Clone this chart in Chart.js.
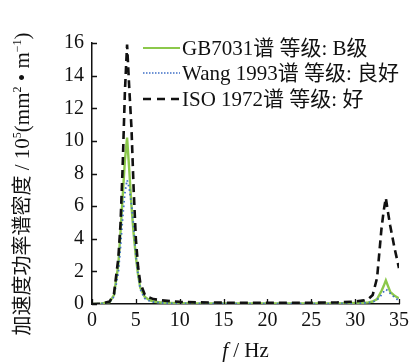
<!DOCTYPE html>
<html>
<head>
<meta charset="utf-8">
<script src="https://cdn.jsdelivr.net/npm/chart.js@4/dist/chart.umd.min.js"></script>
<style>
  html, body { margin: 0; padding: 0; background: #fff; }
  #wrap { width: 414px; height: 362px; }
</style>
</head>
<body>
<div id="wrap"><canvas id="psd" width="414" height="362"></canvas></div>
<script>
// Frequency samples (Hz)
const freqs = [0, 1, 2, 2.5, 3, 3.25, 3.5, 3.75, 4, 4.25, 4.5, 4.75, 5, 5.25, 5.5, 6, 6.5, 7, 8, 9, 10, 12, 15, 20, 25, 28, 30, 31, 31.5, 32, 32.5, 33, 33.25, 33.5, 33.75, 34, 34.5, 35];

// Acceleration PSD, 10^5 (mm^2 · m^-1)
const gb7031 = [0, 0.02, 0.12, 0.55, 2.4, 4.4, 6.6, 8.8, 10.2, 8.2, 6.0, 4.3, 2.9, 1.8, 1.0, 0.45, 0.25, 0.15, 0.08, 0.06, 0.05, 0.04, 0.03, 0.03, 0.03, 0.04, 0.06, 0.08, 0.1, 0.15, 0.3, 0.8, 1.1, 1.45, 1.1, 0.75, 0.5, 0.35];
const wang1993 = [0, 0.02, 0.1, 0.45, 1.9, 3.5, 5.3, 6.8, 7.6, 7.1, 6.1, 4.8, 3.0, 1.8, 0.9, 0.35, 0.2, 0.12, 0.06, 0.04, 0.03, 0.03, 0.02, 0.02, 0.02, 0.03, 0.04, 0.06, 0.08, 0.12, 0.25, 0.55, 0.75, 0.9, 0.8, 0.65, 0.4, 0.2];
const iso1972 = [0, 0.02, 0.15, 0.6, 2.8, 4.9, 8.5, 13.0, 15.9, 13.2, 10.8, 7.0, 4.0, 2.3, 1.3, 0.6, 0.4, 0.3, 0.22, 0.17, 0.13, 0.1, 0.08, 0.08, 0.08, 0.1, 0.15, 0.22, 0.3, 0.55, 1.6, 4.6, 5.7, 6.5, 5.6, 4.8, 3.4, 2.2];

const seriesLabels = ['GB7031谱 等级: B级', 'Wang 1993谱 等级: 良好', 'ISO 1972谱 等级: 好'];

const SERIF = '"Liberation Serif", "Noto Sans CJK SC", serif';
const pts = arr => freqs.map((f, i) => ({ x: f, y: arr[i] }));

// Draw a sequence of text runs (sizes, superscripts, italics), centred on (0,0)
function drawRuns(ctx, runs) {
  const fontOf = r => (r.italic ? 'italic ' : '') + r.size + 'px ' + SERIF;
  let total = 0;
  runs.forEach(r => { ctx.font = fontOf(r); r.w = ctx.measureText(r.t).width; total += r.w; });
  let x = -total / 2;
  ctx.textBaseline = 'alphabetic';
  ctx.textAlign = 'left';
  runs.forEach(r => {
    ctx.font = fontOf(r);
    ctx.fillText(r.t, x, r.rise ? -r.rise : 0);
    x += r.w;
  });
}

const decorations = {
  id: 'decorations',
  afterDatasetsDraw(chart) {
    const { ctx, chartArea, scales } = chart;
    ctx.save();
    // inward tick marks
    ctx.strokeStyle = '#111';
    ctx.lineWidth = 1.3;
    ctx.beginPath();
    scales.y.ticks.forEach(t => {
      const y = Math.round(scales.y.getPixelForValue(t.value)) + 0.5;
      ctx.moveTo(chartArea.left, y); ctx.lineTo(chartArea.left + 5, y);
    });
    scales.x.ticks.forEach(t => {
      const x = Math.round(scales.x.getPixelForValue(t.value)) + 0.5;
      ctx.moveTo(x, chartArea.bottom); ctx.lineTo(x, chartArea.bottom - 5);
    });
    ctx.stroke();

    // legend inside the plot
    const rows = [48, 73, 99];
    chart.data.datasets.forEach((ds, i) => {
      const y = rows[i];
      ctx.save();
      ctx.strokeStyle = ds.borderColor;
      ctx.lineWidth = ds.legendWidth;
      ctx.setLineDash(ds.legendDash);
      ctx.beginPath();
      ctx.moveTo(143, y); ctx.lineTo(180, y);
      ctx.stroke();
      ctx.restore();
      ctx.fillStyle = '#111';
      ctx.font = '21px ' + SERIF;
      ctx.textAlign = 'left';
      ctx.textBaseline = 'middle';
      ctx.fillText(ds.label, 182, y + 1);
    });

    // axis titles
    ctx.fillStyle = '#111';
    ctx.save();
    ctx.translate((chartArea.left + chartArea.right) / 2, 357);
    drawRuns(ctx, [{ t: 'f', italic: true, size: 21 }, { t: ' / Hz', size: 21 }]);
    ctx.restore();

    ctx.save();
    ctx.translate(29, 184);
    ctx.rotate(-Math.PI / 2);
    drawRuns(ctx, [
      { t: '加速度功率谱密度', size: 20 },
      { t: ' / 10', size: 21 }, { t: '5', size: 12, rise: 8 },
      { t: '(mm', size: 21 }, { t: '2', size: 12, rise: 8 },
      { t: ' • m', size: 21 }, { t: '−1', size: 12, rise: 8 }, { t: ')', size: 21 }
    ]);
    ctx.restore();
    ctx.restore();
  }
};

new Chart(document.getElementById('psd'), {
  type: 'line',
  data: {
    datasets: [
      {
        label: seriesLabels[0], data: pts(gb7031), order: 3,
        borderColor: '#8cc84b', borderWidth: 2.4, borderDash: [],
        legendWidth: 2, legendDash: []
      },
      {
        label: seriesLabels[1], data: pts(wang1993), order: 2,
        borderColor: '#3f6fc6', borderWidth: 1.8, borderDash: [1.6, 3],
        legendWidth: 1.5, legendDash: [1.5, 1.5]
      },
      {
        label: seriesLabels[2], data: pts(iso1972), order: 1,
        borderColor: '#111111', borderWidth: 2.6, borderDash: [8, 5],
        legendWidth: 2.4, legendDash: [8, 6]
      }
    ]
  },
  options: {
    responsive: false,
    devicePixelRatio: 1,
    animation: false,
    layout: { padding: { left: 0, right: 11, top: 43, bottom: 0 } },
    elements: {
      line: { tension: 0, fill: false, borderCapStyle: 'butt' },
      point: { radius: 0, hoverRadius: 0 }
    },
    plugins: { legend: { display: false }, tooltip: { enabled: false } },
    scales: {
      x: {
        type: 'linear', min: 0, max: 35,
        grid: { display: false, drawTicks: false },
        border: { display: true, color: '#111', width: 1.5 },
        ticks: { stepSize: 5, color: '#111', padding: 5, maxRotation: 0, font: { family: SERIF, size: 20 } },
        afterFit(s) { s.height = 58; }
      },
      y: {
        type: 'linear', min: 0, max: 16,
        grid: { display: false, drawTicks: false },
        border: { display: true, color: '#111', width: 1.5 },
        ticks: { stepSize: 2, color: '#111', padding: 8, font: { family: SERIF, size: 20 } },
        afterFit(s) { s.width = 92; }
      }
    }
  },
  plugins: [decorations]
});
</script>
</body>
</html>
